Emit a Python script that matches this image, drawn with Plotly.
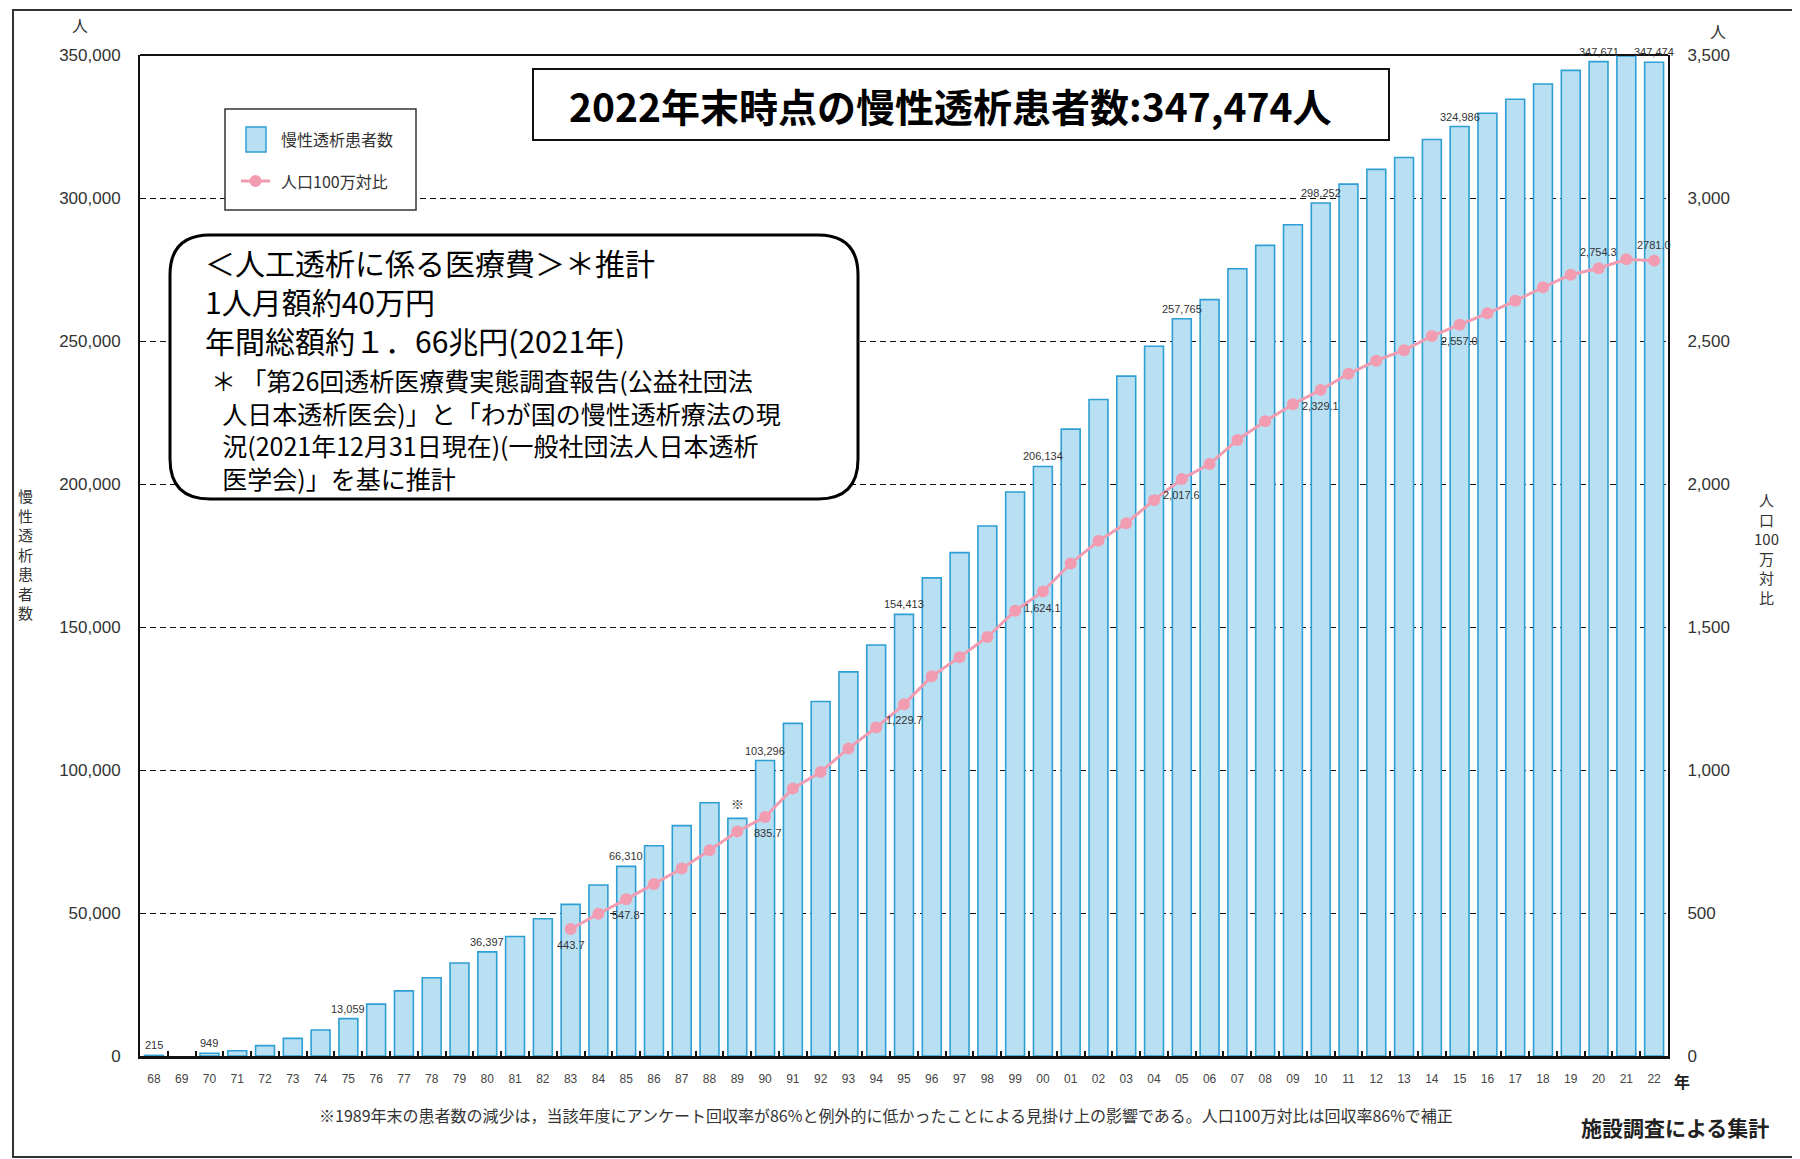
import plotly.graph_objects as go

# ---------------- data ----------------
years = list(range(1968, 2023))
year_labels = [f"{y % 100:02d}" for y in years]

patients = [215, None, 949, 1826, 3631, 6148, 9079, 13059, 18131, 22771,
            27362, 32541, 36397, 41805, 47978, 53017, 59811, 66310, 73537, 80553,
            88534, 83100, 103296, 116303, 123926, 134298, 143709, 154413, 167192, 175988,
            185322, 197213, 206134, 219183, 229538, 237710, 248166, 257765, 264473, 275242,
            283421, 290661, 298252, 304856, 310007, 314180, 320448, 324986, 329609, 334505,
            339841, 344640, 347671, 349700, 347474]

pm_years = list(range(1983, 2023))
per_million = [443.7, 497.5, 547.8, 601.5, 655.3, 719.5, 785.0, 835.7, 935.5, 993.0,
               1075.5, 1148.6, 1229.7, 1327.9, 1394.6, 1465.1, 1556.6, 1624.1, 1721.9, 1801.2,
               1862.7, 1943.6, 2017.6, 2069.9, 2154.2, 2219.6, 2279.0, 2329.1, 2385.4, 2431.2,
               2468.0, 2517.3, 2557.0, 2596.9, 2640.4, 2687.9, 2731.7, 2754.3, 2786.0, 2781.0]

bar_label_years = [1968, 1970, 1975, 1980, 1985, 1990, 1995, 2000, 2005, 2010, 2015, 2020, 2022]
line_label_below = [1983, 1985, 1990, 1995, 2000, 2005, 2010, 2015]
line_label_above = [2020, 2022]
line_label_text = {1983: "443.7", 1985: "547.8", 1990: "835.7", 1995: "1,229.7", 2000: "1,624.1",
                   2005: "2,017.6", 2010: "2,329.1", 2015: "2,557.0", 2020: "2,754.3", 2022: "2781.0"}

left_ticks = [0, 50000, 100000, 150000, 200000, 250000, 300000, 350000]
right_ticks = [0, 500, 1000, 1500, 2000, 2500, 3000, 3500]

cost_head = ["＜人工透析に係る医療費＞＊推計", "1人月額約40万円", "年間総額約１．66兆円(2021年)"]
cost_note = ["＊ 「第26回透析医療費実態調査報告(公益社団法",
             "&nbsp;&nbsp;人日本透析医会)」と「わが国の慢性透析療法の現",
             "&nbsp;&nbsp;況(2021年12月31日現在)(一般社団法人日本透析",
             "&nbsp;&nbsp;医学会)」を基に推計"]

# ---------------- helpers ----------------
W, H = 1800, 1159
OFF = 8  # page body margin
def X(px): return (px - OFF) / W
def Y(py): return 1 - (py - OFF) / H

BAR_FILL = "#b8dff2"
BAR_LINE = "#2e9fd4"
PINK = "#f29cb2"
SMALL = "Liberation Sans Narrow, Liberation Sans, Arial"
JP = "Noto Sans CJK JP"

fig = go.Figure()
fig.add_trace(go.Bar(
    x=years, y=patients, name="慢性透析患者数",
    marker=dict(color=BAR_FILL, line=dict(color=BAR_LINE, width=1.6)),
    yaxis="y"))
fig.add_trace(go.Scatter(
    x=pm_years, y=per_million, name="人口100万対比", mode="lines+markers",
    line=dict(color=PINK, width=3), marker=dict(color=PINK, size=12),
    yaxis="y2"))

ann = []
# bar value labels
for yr in bar_label_years:
    v = patients[years.index(yr)]
    ann.append(dict(x=yr, y=v, xref="x", yref="y", text=f"{v:,}",
                    showarrow=False, yanchor="bottom", yshift=2,
                    font=dict(family=SMALL, size=11, color="#333")))
# ※ mark on 1989
ann.append(dict(x=1989, y=patients[years.index(1989)], xref="x", yref="y", text="※",
                showarrow=False, yanchor="bottom", yshift=3,
                font=dict(family=JP, size=13, color="#333")))
# line labels
for yr in line_label_below + line_label_above:
    v = per_million[pm_years.index(yr)]
    below = yr in line_label_below
    ann.append(dict(x=yr, xref="x", y=v, yref="y2", text=line_label_text[yr],
                    showarrow=False, yanchor="top" if below else "bottom",
                    yshift=-8 if below else 8, xshift=3 if yr == 1990 else 0,
                    font=dict(family=SMALL, size=11, color="#333")))

def ptext(x, y, text, size, xanchor="left", bold=False, color="#111", family=JP, yanchor="middle", align="center"):
    ann.append(dict(x=X(x), y=Y(y), xref="paper", yref="paper", text=f"<b>{text}</b>" if bold else text,
                    showarrow=False, xanchor=xanchor, yanchor=yanchor, align=align,
                    font=dict(family=family, size=size, color=color)))

# unit labels
ptext(80, 25, "人", 16, xanchor="center", color="#333")
ptext(1718, 31, "人", 16, xanchor="center", color="#333")
ptext(1682, 1081, "年", 16, xanchor="center", bold=True, color="#222")
# axis titles (vertical)
ptext(25, 554, "<br>".join("慢性透析患者数"), 15, xanchor="center", color="#333")
ptext(1766, 548, "人<br>口<br>100<br>万<br>対<br>比", 15, xanchor="center", color="#333")
# title box text
ptext(950, 105, "2022年末時点の慢性透析患者数:347,474人", 39, xanchor="center", bold=True, color="#000")
# legend texts
ptext(279, 139, "慢性透析患者数", 16, color="#333")
ptext(279, 181, "人口100万対比", 16, color="#333")
# rounded box text
ptext(203, 301, "<br>".join(cost_head), 30, color="#000", align="left")
ptext(209, 429, "<br>".join(cost_note), 25, color="#000", align="left")
# footnote
ptext(886, 1115, "※1989年末の患者数の減少は，当該年度にアンケート回収率が86%と例外的に低かったことによる見掛け上の影響である。人口100万対比は回収率86%で補正",
      16, xanchor="center", color="#333")
ptext(1675, 1127, "施設調査による集計", 21, xanchor="center", bold=True, color="#222")

shapes = []
# outer frame
shapes.append(dict(type="rect", xref="paper", yref="paper", x0=X(13), x1=X(1793), y0=Y(1157), y1=Y(10),
                   line=dict(color="#333", width=2), layer="below"))
# plot top line
shapes.append(dict(type="line", xref="paper", yref="paper", x0=X(140), x1=X(1668), y0=Y(55), y1=Y(55),
                   line=dict(color="#111", width=2)))
# title box
shapes.append(dict(type="rect", xref="paper", yref="paper", x0=X(533), x1=X(1389), y0=Y(140), y1=Y(69),
                   line=dict(color="#111", width=2), fillcolor="white", layer="above"))
# legend box
shapes.append(dict(type="rect", xref="paper", yref="paper", x0=X(225), x1=X(416), y0=Y(210), y1=Y(109),
                   line=dict(color="#333", width=1.5), fillcolor="white", layer="above"))
shapes.append(dict(type="rect", xref="paper", yref="paper", x0=X(246), x1=X(266), y0=Y(152), y1=Y(127),
                   line=dict(color=BAR_LINE, width=1.5), fillcolor=BAR_FILL, layer="above"))
shapes.append(dict(type="line", xref="paper", yref="paper", x0=X(241), x1=X(270), y0=Y(181), y1=Y(181),
                   line=dict(color=PINK, width=3), layer="above"))
shapes.append(dict(type="circle", xref="paper", yref="paper", x0=X(249.5), x1=X(261.5), y0=Y(187), y1=Y(175),
                   line=dict(color=PINK, width=0), fillcolor=PINK, layer="above"))
# rounded box
x0, x1, top, bot = X(170), X(858), Y(235), Y(499)
rx, ry = 40 / W, 40 / H
path = (f"M {x0+rx},{top} L {x1-rx},{top} Q {x1},{top} {x1},{top-ry} "
        f"L {x1},{bot+ry} Q {x1},{bot} {x1-rx},{bot} L {x0+rx},{bot} "
        f"Q {x0},{bot} {x0},{bot+ry} L {x0},{top-ry} Q {x0},{top} {x0+rx},{top} Z")
shapes.append(dict(type="path", xref="paper", yref="paper", path=path,
                   line=dict(color="#000", width=3), fillcolor="white", layer="above"))

boundaries = [y - 0.5 for y in years[1:]]

fig.update_layout(
    width=W, height=H, margin=dict(l=0, r=0, t=0, b=0),
    paper_bgcolor="white", plot_bgcolor="white",
    showlegend=False, bargap=0.32,
    font=dict(family=JP),
    xaxis=dict(domain=[X(140), X(1668)], range=[1967.5, 2022.5],
               tickmode="array", tickvals=years, ticktext=year_labels, tickangle=0,
               tickfont=dict(family=SMALL, size=12, color="#444"),
               showline=True, linewidth=3, linecolor="#111",
               ticks="", ticklabelstandoff=10, showgrid=False, zeroline=False, automargin=False,
               minor=dict(tickmode="array", tickvals=boundaries, ticks="inside", ticklen=5,
                          tickwidth=1.5, tickcolor="#111", showgrid=False)),
    yaxis=dict(domain=[Y(1056), Y(55)], range=[0, 350000], tickvals=left_ticks, tickformat=",",
               tickfont=dict(family="Liberation Sans, Arial", size=17, color="#333"),
               showgrid=True, gridcolor="#111", griddash="6px,4px", gridwidth=1.3,
               showline=True, linewidth=2, linecolor="#111", zeroline=False,
               ticks="", ticklabelstandoff=14, automargin=False),
    yaxis2=dict(overlaying="y", side="right", anchor="x", range=[0, 3500], tickvals=right_ticks,
                tickformat=",", tickfont=dict(family="Liberation Sans, Arial", size=17, color="#333"),
                showgrid=False, showline=True, linewidth=2, linecolor="#111", zeroline=False,
                ticks="", ticklabelstandoff=14, automargin=False),
    annotations=ann, shapes=shapes,
)

fig.write_html("out.html")
